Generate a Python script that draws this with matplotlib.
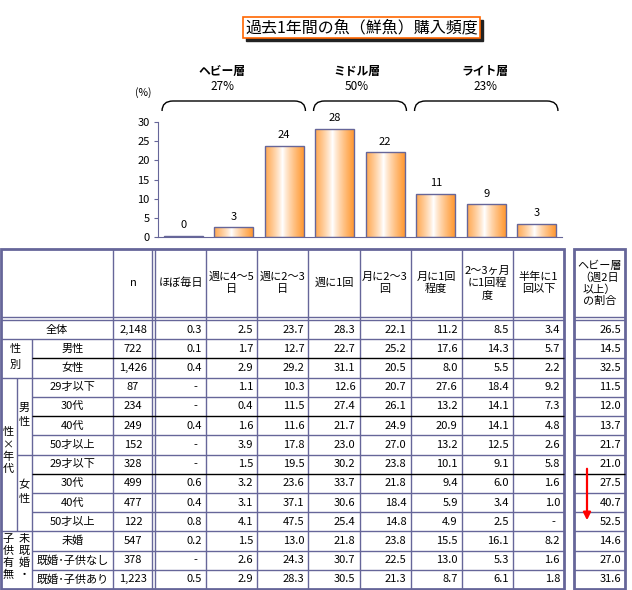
#========================================IMPORTS========================================
import numpy as np
import matplotlib
matplotlib.use('Agg')
import matplotlib.pyplot as plt
from matplotlib.colors import LinearSegmentedColormap
from matplotlib.patches import Rectangle, PathPatch
from matplotlib.path import Path

plt.rcParams['font.family'] = ['Noto Sans CJK JP', 'DejaVu Sans']

#=========================================DATA==========================================
title = '過去1年間の魚（鮮魚）購入頻度'
freq_labels = ['ほぼ毎日', '週に4～5\n日', '週に2～3\n日', '週に1回', '月に2～3\n回',
               '月に1回\n程度', '2～3ヶ月\nに1回程\n度', '半年に1\n回以下']
group_names = ['ヘビー層', 'ミドル層', 'ライト層']
group_sizes = [3, 2, 3]
share_header = 'ヘビー層\n（週2日\n以上）\nの割合'

row_labels = ['全体', '男性', '女性', '29才以下', '30代', '40代', '50才以上',
              '29才以下', '30代', '40代', '50才以上', '未婚', '既婚･子供なし', '既婚･子供あり']
n_values = [2148, 722, 1426, 87, 234, 249, 152, 328, 499, 477, 122, 547, 378, 1223]

nan = np.nan
hobo_mainichi = [0.3, 0.1, 0.4, nan, nan, 0.4, nan, nan, 0.6, 0.4, 0.8, 0.2, nan, 0.5]
shu_4_5 = [2.5, 1.7, 2.9, 1.1, 0.4, 1.6, 3.9, 1.5, 3.2, 3.1, 4.1, 1.5, 2.6, 2.9]
shu_2_3 = [23.7, 12.7, 29.2, 10.3, 11.5, 11.6, 17.8, 19.5, 23.6, 37.1, 47.5, 13.0, 24.3, 28.3]
shu_1 = [28.3, 22.7, 31.1, 12.6, 27.4, 21.7, 23.0, 30.2, 33.7, 30.6, 25.4, 21.8, 30.7, 30.5]
tsuki_2_3 = [22.1, 25.2, 20.5, 20.7, 26.1, 24.9, 27.0, 23.8, 21.8, 18.4, 14.8, 23.8, 22.5, 21.3]
tsuki_1 = [11.2, 17.6, 8.0, 27.6, 13.2, 20.9, 13.2, 10.1, 9.4, 5.9, 4.9, 15.5, 13.0, 8.7]
kagetsu_2_3 = [8.5, 14.3, 5.5, 18.4, 14.1, 14.1, 12.5, 9.1, 6.0, 3.4, 2.5, 16.1, 5.3, 6.1]
hantoshi = [3.4, 5.7, 2.2, 9.2, 7.3, 4.8, 2.6, 5.8, 1.6, 1.0, nan, 8.2, 1.6, 1.8]
heavy_share = [26.5, 14.5, 32.5, 11.5, 12.0, 13.7, 21.7, 21.0, 27.5, 40.7, 52.5, 14.6, 27.0, 31.6]

freq_cols = [hobo_mainichi, shu_4_5, shu_2_3, shu_1, tsuki_2_3, tsuki_1, kagetsu_2_3, hantoshi]
total = [c[0] for c in freq_cols]          # 全体 row -> bar chart


def r_half(v):
    return int(np.floor(v + 0.5))


#========================================FIGURE=========================================
PURPLE = '#666699'
fig = plt.figure(figsize=(6.32, 5.90), dpi=100)
ov = fig.add_axes([0, 0, 1, 1])          # pixel-coordinate overlay
ov.set_xlim(0, 632)
ov.set_ylim(590, 0)
ov.axis('off')

ax = fig.add_axes([158/632, (590-237)/590, 404/632, 115/590])
ax.patch.set_alpha(0)

# title box
ov.add_patch(Rectangle((246, 20), 237, 21, color='#222222', zorder=1))
ov.add_patch(Rectangle((243, 17), 237, 21, facecolor='white', edgecolor='#FF6600', lw=1.2, zorder=2))
ov.text(361.5, 27.5, title, ha='center', va='center', fontsize=11.5, zorder=3)

#======================================BAR CHART========================================
x = np.arange(len(total))
cmap = LinearSegmentedColormap.from_list('bar', ['white', '#FF9933'])
grad = np.abs(np.linspace(0, 1, 80) - 0.45)
grad = (grad / grad.max()) ** 0.8
bars = ax.bar(x, total, width=0.77, color='none', edgecolor=PURPLE, lw=1.0, zorder=3)
for b in bars:
    bx, by = b.get_xy()
    im = ax.imshow(grad[None, :], cmap=cmap, aspect='auto', interpolation='bilinear',
                   extent=[bx, bx + b.get_width(), by, by + b.get_height()], zorder=2)
    im.set_clip_path(b)
for xi, v in zip(x, total):
    ax.text(xi, v + 2.8, str(r_half(v)), ha='center', va='center', fontsize=8)

ax.set_xlim(-0.5, len(total) - 0.5)
ax.set_ylim(0, 30)
ax.set_yticks(range(0, 31, 5))
ax.set_xticks([])
ax.tick_params(axis='y', length=3, color=PURPLE, labelsize=8, pad=3)
for s in ['top', 'right']:
    ax.spines[s].set_visible(False)
for s in ['left', 'bottom']:
    ax.spines[s].set_color(PURPLE)
ov.text(143, 93, '(%)', ha='center', va='center', fontsize=7.5)

# group brackets + labels
label_x = [222, 357, 485]
to_ov = lambda px, py: ov.transData.inverted().transform(ax.transData.transform((px, py)))
start = 0
for name, size, lx in zip(group_names, group_sizes, label_x):
    x0 = to_ov(start - 0.42, 0)[0]
    x1 = to_ov(start + size - 1 + 0.42, 0)[0]
    yt, yb, r = 101, 111, 11
    verts = [(x0, yb), (x0, yt), (x0 + r, yt), (x1 - r, yt), (x1, yt), (x1, yb)]
    codes = [Path.MOVETO, Path.CURVE3, Path.CURVE3, Path.LINETO, Path.CURVE3, Path.CURVE3]
    ov.add_patch(PathPatch(Path(verts, codes), fill=False, lw=1.0, edgecolor='black'))
    pct = r_half(sum(total[start:start + size]))
    ov.text(lx, 72, name, ha='center', va='center', fontsize=8.5, fontweight='bold')
    ov.text(lx, 86, '%d%%' % pct, ha='center', va='center', fontsize=8.5)
    start += size

#=========================================TABLE=========================================
FS = 8
top, left, right = 249, 1, 564
rleft, rright = 574, 625
row_edges = np.linspace(320, 589, len(row_labels) + 1)
val_edges = np.linspace(155, right, len(freq_cols) + 1)
bottom = row_edges[-1]


def hline(y, x0, x1, c=PURPLE, lw=1.0):
    ov.plot([x0, x1], [y, y], color=c, lw=lw, solid_capstyle='butt')


def vline(xx, y0, y1, c=PURPLE, lw=1.0):
    ov.plot([xx, xx], [y0, y1], color=c, lw=lw, solid_capstyle='butt')


# header text
ov.text(133, 283, 'n', ha='center', va='center', fontsize=FS)
for k, lab in enumerate(freq_labels):
    cx = (val_edges[k] + val_edges[k + 1]) / 2
    ov.text(cx, 283, lab, ha='center', va='center', fontsize=FS, linespacing=1.25, multialignment='center')
ov.text((rleft + rright) / 2, 283, share_header, ha='center', va='center', fontsize=FS,
        linespacing=1.15, multialignment='center')

# grid lines
for yy in (316.5, 319.5):
    hline(yy, left, right)
    hline(yy, rleft, rright)
vline(113, top, bottom)
vline(152, top, bottom)
vline(155, top, bottom)
for xx in val_edges[1:-1]:
    vline(xx, top, bottom)
vline(32, row_edges[1], bottom)
vline(17, row_edges[3], row_edges[11])

black_rows = [2, 5, 8]
for i in range(1, len(row_labels)):
    yy = row_edges[i]
    if i in (1, 3, 11):
        x0 = left
    elif i == 7:
        x0 = 17
    else:
        x0 = 32
    c = 'black' if i in black_rows else PURPLE
    hline(yy, x0, right, c=c)
    hline(yy, rleft, rright, c='black' if i == 8 else PURPLE)

ov.add_patch(Rectangle((left, top), right - left, bottom - top, fill=False, edgecolor=PURPLE, lw=2))
ov.add_patch(Rectangle((rleft, top), rright - rleft, bottom - top, fill=False, edgecolor=PURPLE, lw=2))

# row text
for i, lab in enumerate(row_labels):
    cy = (row_edges[i] + row_edges[i + 1]) / 2
    lx = 57 if i == 0 else 72.5
    ov.text(lx, cy, lab, ha='center', va='center', fontsize=FS)
    ov.text(133, cy, '{:,}'.format(n_values[i]), ha='center', va='center', fontsize=FS)
    for k, col in enumerate(freq_cols):
        v = col[i]
        if np.isnan(v):
            ov.text(val_edges[k + 1] - 11, cy, '-', ha='center', va='center', fontsize=FS)
        else:
            ov.text(val_edges[k + 1] - 4, cy, '%.1f' % v, ha='right', va='center', fontsize=FS)
    ov.text(rright - 4, cy, '%.1f' % heavy_share[i], ha='right', va='center', fontsize=FS)

# vertical group labels
for ch, yy in zip('性別', (349, 365)):
    ov.text(15, yy, ch, ha='center', va='center', fontsize=FS)
for ch, yy in zip('性×年代', (432, 445, 457, 469)):
    ov.text(8, yy, ch, ha='center', va='center', fontsize=FS)
for ch, yy in zip('男性', (408, 422)):
    ov.text(24, yy, ch, ha='center', va='center', fontsize=FS)
for ch, yy in zip('女性', (485, 499)):
    ov.text(24, yy, ch, ha='center', va='center', fontsize=FS)
for ch, yy in zip('子供有無', (539, 551, 563, 575)):
    ov.text(8, yy, ch, ha='center', va='center', fontsize=FS)
for ch, yy in zip('未既婚・', (539, 551, 563, 575)):
    ov.text(24, yy, ch, ha='center', va='center', fontsize=FS)

# red arrow
ov.annotate('', xy=(587, 523), xytext=(587, 466),
            arrowprops=dict(arrowstyle='-|>', color='red', lw=1.6, mutation_scale=11))

fig.savefig('out.png', dpi=100)
